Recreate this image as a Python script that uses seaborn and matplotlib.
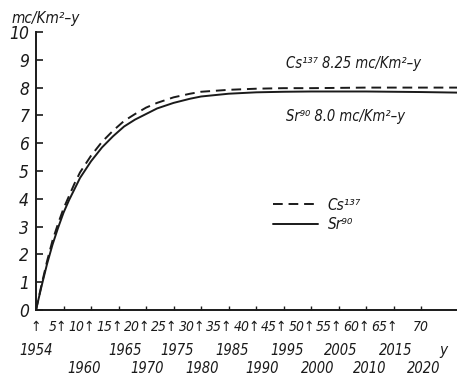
import matplotlib
matplotlib.use("Agg")
import matplotlib.pyplot as plt
import matplotlib.transforms as mtrans
from matplotlib.lines import Line2D
import seaborn as sns
import pandas as pd

# ---- data ----
years = [0, 1, 2, 3, 4, 5, 6, 7, 8, 10, 12, 14, 16, 18, 20, 22, 25, 28, 30,
         35, 40, 45, 50, 60, 70, 76.5]
sr90 = [0, 0.85, 1.65, 2.35, 2.95, 3.5, 3.95, 4.35, 4.75, 5.35, 5.85, 6.25,
        6.6, 6.85, 7.05, 7.25, 7.45, 7.6, 7.68, 7.78, 7.83, 7.85, 7.86, 7.86,
        7.84, 7.82]
cs137 = [0, 0.9, 1.75, 2.5, 3.1, 3.65, 4.1, 4.55, 4.95, 5.55, 6.05, 6.45,
         6.8, 7.05, 7.28, 7.45, 7.65, 7.78, 7.85, 7.92, 7.96, 7.98, 7.98, 8.0,
         8.0, 8.0]
series_names = ["Cs¹³⁷", "Sr⁹⁰"]
x_ticks = [0, 5, 10, 15, 20, 25, 30, 35, 40, 45, 50, 55, 60, 65, 70]
x_ticklabels = ["↑", "5↑", "10↑", "15↑", "20↑", "25↑", "30↑", "35↑", "40↑",
                "45↑", "50↑", "55↑", "60↑", "65↑", "70"]
y_ticks = [0, 1, 2, 3, 4, 5, 6, 7, 8, 9, 10]
year_row1 = ["1954", "1965", "1975", "1985", "1995", "2005", "2015"]
year_row1_pos = [0, 16.2, 25.6, 35.6, 45.6, 55.3, 65.4]
year_row2 = ["1960", "1970", "1980", "1990", "2000", "2010", "2020"]
year_row2_pos = [8.7, 20.2, 30.2, 41.1, 51.2, 60.6, 70.4]

df = pd.DataFrame({
    "t": years * 2,
    "v": cs137 + sr90,
    "s": [series_names[0]] * len(years) + [series_names[1]] * len(years),
})

sns.set_style("white")
plt.rcParams["font.family"] = ["DejaVu Sans"]
plt.rcParams["font.style"] = "italic"
plt.rcParams["font.stretch"] = "condensed"
INK = "#1a1a1a"
TXT = dict(style="italic", fontstretch="condensed", color=INK)

fig = plt.figure(figsize=(4.57, 3.79), dpi=100)
ax = fig.add_axes([36 / 457, 1 - 310 / 379, 1 - 36 / 457, (310 - 32) / 379])

sns.lineplot(data=df, x="t", y="v", style="s", ax=ax, color=INK,
             dashes={series_names[0]: (5, 3), series_names[1]: ""},
             linewidth=1.4, legend=False)

ax.set_xlim(0, 76.5)
ax.set_ylim(0, 10)
ax.set_xlabel("")
ax.set_ylabel("")
for s in ["top", "right"]:
    ax.spines[s].set_visible(False)
for s in ["left", "bottom"]:
    ax.spines[s].set_color(INK)
    ax.spines[s].set_linewidth(1.4)

ax.set_yticks(y_ticks)
ax.set_yticklabels([str(v) for v in y_ticks], fontsize=12.5, **TXT)
ax.set_xticks(x_ticks)
ax.set_xticklabels(x_ticklabels, fontsize=10, **TXT)
ax.tick_params(axis="y", direction="in", length=5, width=1.2, pad=5,
               colors=INK, left=True)
ax.tick_params(axis="x", direction="in", length=3, width=1.0, pad=7,
               colors=INK, bottom=True)
for lab, txt in zip(ax.get_xticklabels(), x_ticklabels):
    if txt.endswith("↑") and txt != "↑":
        lab.set_ha("right")
        lab.set_transform(lab.get_transform() +
                          mtrans.ScaledTranslation(4 / 100, 0, fig.dpi_scale_trans))

tr = ax.get_xaxis_transform()
for txt, p in zip(year_row1, year_row1_pos):
    ax.text(p, -0.144, txt, transform=tr, ha="center", va="center",
            fontsize=10.5, **TXT)
for txt, p in zip(year_row2, year_row2_pos):
    ax.text(p, -0.209, txt, transform=tr, ha="center", va="center",
            fontsize=10.5, **TXT)
ax.text(74, -0.144, "y", transform=tr, ha="center", va="center",
        fontsize=11, **TXT)

fig.text(12 / 457, 1 - 18 / 379, "mc/Km²–y", ha="left", va="center",
         fontsize=11, **TXT)

ax.text(45.5, 8.85, "Cs¹³⁷ 8.25 mc/Km²–y", ha="left", va="center",
        fontsize=10.5, **TXT)
ax.text(45.5, 6.95, "Sr⁹⁰ 8.0 mc/Km²–y", ha="left", va="center",
        fontsize=10.5, **TXT)

handles = [Line2D([], [], color=INK, lw=1.4, dashes=(5, 3)),
           Line2D([], [], color=INK, lw=1.4)]
leg = ax.legend(handles, series_names, loc="upper left",
                bbox_to_anchor=(265 / 457, 1 - 190 / 379),
                bbox_transform=fig.transFigure, frameon=False,
                fontsize=11, handlelength=3.0, handletextpad=0.6,
                labelspacing=0.3, borderpad=0)
for t in leg.get_texts():
    t.set_style("italic")
    t.set_fontstretch("condensed")
    t.set_color(INK)

fig.savefig("out.png", dpi=100)
